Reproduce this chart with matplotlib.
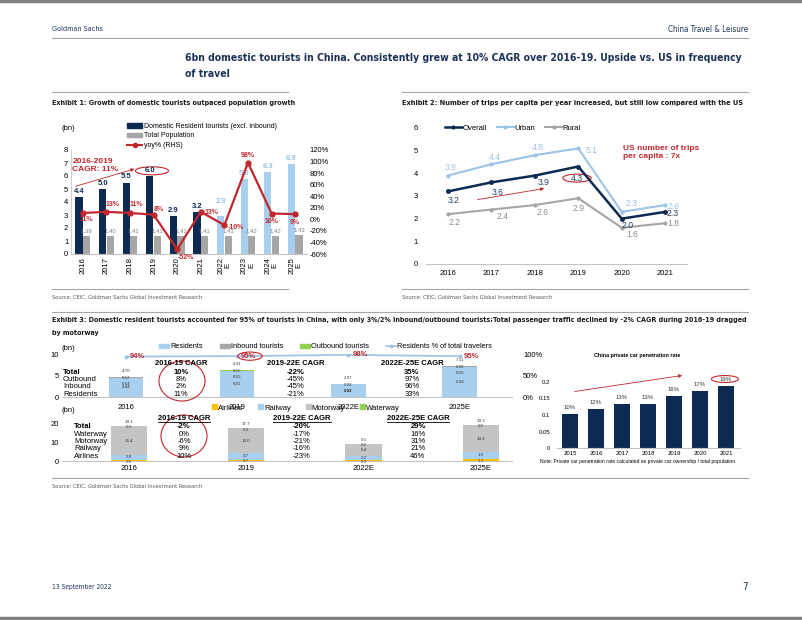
import numpy as np
import matplotlib
matplotlib.use("Agg")
import matplotlib.pyplot as plt
from matplotlib import font_manager as fm
from matplotlib.patches import Ellipse, Patch
from matplotlib.lines import Line2D
from matplotlib.ticker import FuncFormatter

# ---- data ----
ex1_years = ["2016", "2017", "2018", "2019", "2020", "2021", "2022\nE", "2023\nE", "2024\nE", "2025\nE"]
ex1_tourists = [4.4, 5.0, 5.5, 6.0, 2.9, 3.2, 2.9, 5.8, 6.3, 6.9]
ex1_population = [1.39, 1.40, 1.41, 1.41, 1.41, 1.41, 1.41, 1.42, 1.42, 1.43]
ex1_yoy = [0.11, 0.13, 0.11, 0.08, -0.52, 0.13, -0.10, 0.98, 0.10, 0.09]
ex1_n_actual = 6

ex2_years = ["2016", "2017", "2018", "2019", "2020", "2021"]
ex2_overall = [3.2, 3.6, 3.9, 4.3, 2.0, 2.3]
ex2_urban = [3.9, 4.4, 4.8, 5.1, 2.3, 2.6]
ex2_rural = [2.2, 2.4, 2.6, 2.9, 1.6, 1.8]

ex3_periods = ["2016", "2019", "2022E", "2025E"]
ex3_residents = [4.44, 6.01, 2.92, 6.94]
ex3_inbound = [0.14, 0.15, 0.02, 0.18]
ex3_outbound = [0.12, 0.15, 0.03, 0.20]
ex3_total = [4.70, 6.31, 2.97, 7.31]
ex3_res_share = [0.94, 0.95, 0.98, 0.95]
ex3_rows = ["Total", "Outbound", "Inbound", "Residents"]
cagr_heads = ["2016-19 CAGR", "2019-22E CAGR", "2022E-25E CAGR"]
ex3_cagr_1619 = ["10%", "8%", "2%", "11%"]
ex3_cagr_1922 = ["-22%", "-45%", "-45%", "-21%"]
ex3_cagr_2225 = ["35%", "97%", "96%", "33%"]

pax_airlines = [0.5, 0.7, 0.3, 1.1]
pax_railway = [2.8, 3.7, 2.2, 3.9]
pax_motorway = [15.4, 13.0, 6.4, 14.2]
pax_waterway = [0.3, 0.3, 0.2, 0.2]
pax_total = [19.1, 17.7, 9.1, 19.3]
pax_rows = ["Total", "Waterway", "Motorway", "Railway", "Airlines"]
pax_cagr_1619 = ["-2%", "0%", "-6%", "9%", "10%"]
pax_cagr_1922 = ["-20%", "-17%", "-21%", "-16%", "-23%"]
pax_cagr_2225 = ["29%", "16%", "31%", "21%", "46%"]

car_years = ["2015", "2016", "2017", "2018", "2019", "2020", "2021"]
car_rate = [0.103, 0.118, 0.132, 0.133, 0.158, 0.172, 0.187]

# ---- colours ----
NAVY = "#1c3157"
BAR_NAVY = "#0c2a52"
LBLUE = "#a9cfee"
LINE_BLUE = "#9dc3e6"
GRAY = "#a6a6a6"
LGRAY = "#c4c4c4"
GREEN = "#92d050"
YELLOW = "#ffc000"
RED = "#c0282d"
RULE = "#a6a6a6"

W, H = 802, 620
plt.rcParams["font.family"] = ["Liberation Sans", "DejaVu Sans"]
plt.rcParams["axes.unicode_minus"] = False

fig = plt.figure(figsize=(W / 100, H / 100), dpi=100)
renderer = fig.canvas.get_renderer()

names = {f.name for f in fm.fontManager.ttflist}
if "Liberation Sans Narrow" in names:
    COND = dict(family="Liberation Sans Narrow")
else:
    COND = dict(family="DejaVu Sans", stretch="condensed")


def axes_px(x0, y0, x1, y1):
    return fig.add_axes([x0 / W, 1 - y1 / H, (x1 - x0) / W, (y1 - y0) / H])


def text(x, y, s, **kw):
    return fig.text(x / W, 1 - y / H, s, **kw)


def fit_text(x, y, s, width, size=8, **kw):
    t = text(x, y, s, fontsize=size, **kw)
    w = t.get_window_extent(renderer).width
    t.set_fontsize(size * width / w)
    return t


def hline(y, x0, x1, lw=0.8, color=RULE):
    fig.add_artist(Line2D([x0 / W, x1 / W], [1 - y / H, 1 - y / H], lw=lw, color=color))


def ellipse_px(cx, cy, w, h):
    fig.add_artist(Ellipse((cx / W, 1 - cy / H), w / W, h / H, fill=False,
                           ec=RED, lw=0.8, transform=fig.transFigure))


def style_axes(ax, size=5.5):
    for s in ["top", "right", "left"]:
        ax.spines[s].set_visible(False)
    ax.spines["bottom"].set_color(LGRAY)
    ax.spines["bottom"].set_linewidth(0.8)
    ax.tick_params(length=0, labelsize=size, pad=2)
    ax.patch.set_alpha(0)


# ---- page furniture ----
hline(1, 0, W, lw=2.5, color="#808080")
hline(618, 0, W, lw=2.5, color="#808080")
fit_text(52, 29, "Goldman Sachs", 51, color=NAVY, va="center", **COND)
fit_text(748, 29, "China Travel & Leisure", 80, color=NAVY, va="center", ha="right", **COND)
hline(38, 52, 748)
t = fit_text(185, 58, "6bn domestic tourists in China. Consistently grew at 10% CAGR over 2016-19. "
             "Upside vs. US in frequency", 555, color=NAVY, va="center", weight="bold", **COND)
text(185, 74, "of travel", fontsize=t.get_fontsize(), color=NAVY, va="center", weight="bold", **COND)

hline(92, 52, 288)
hline(92, 402, 748)
fit_text(52, 103, "Exhibit 1: Growth of domestic tourists outpaced population growth", 246,
         color="#1a1a1a", va="center", weight="bold", **COND)
fit_text(402, 103, "Exhibit 2: Number of trips per capita per year increased, but still low compared with the US",
         346, color="#1a1a1a", va="center", weight="bold", **COND)

hline(289, 52, 288)
hline(289, 402, 748)
src = "Source: CEIC, Goldman Sachs Global Investment Research"
fit_text(52, 297, src, 150, color="#595959", va="center", **COND)
fit_text(402, 297, src, 150, color="#595959", va="center", **COND)

hline(312, 52, 748)
t = fit_text(52, 320, "Exhibit 3: Domestic resident tourists accounted for 95% of tourists in China, with only "
             "3%/2% inbound/outbound tourists;Total passenger traffic declined by -2% CAGR during 2016-19 dragged",
             696, color="#1a1a1a", va="center", weight="bold", **COND)
text(52, 333, "by motorway", fontsize=t.get_fontsize(), color="#1a1a1a", va="center", weight="bold", **COND)

hline(478, 52, 748)
fit_text(52, 486, src, 150, color="#595959", va="center", **COND)
fit_text(52, 587, "13 September 2022", 59, color=NAVY, va="center", **COND)
text(748, 587, "7", fontsize=7, color=NAVY, va="center", ha="right", **COND)

# ---- Exhibit 1 ----
ax1 = axes_px(71, 150, 307, 254)
x1 = np.arange(len(ex1_years))
tour_cols = [BAR_NAVY] * ex1_n_actual + [LBLUE] * (len(ex1_years) - ex1_n_actual)
ax1.bar(x1 - 0.16, ex1_tourists, 0.3, color=tour_cols, zorder=2)
ax1.bar(x1 + 0.16, ex1_population, 0.3, color=GRAY, zorder=2)
ax1.set_xlim(-0.5, len(ex1_years) - 0.5)
ax1.set_ylim(0, 8)
ax1.set_yticks(range(0, 9))
ax1.set_xticks(x1)
ax1.set_xticklabels(ex1_years, rotation=90, linespacing=1.0)
style_axes(ax1)
ax1.spines["left"].set_visible(True)
ax1.spines["left"].set_color(LGRAY)
ax1.spines["left"].set_linewidth(0.6)

tour_lift = [2, 2, 2, 2, 2, 2, 11, 2, 2, 2]
for i, v in enumerate(ex1_tourists):
    ax1.annotate(f"{v:.1f}", (i - 0.16, v), xytext=(0, tour_lift[i]), textcoords="offset pixels",
                 ha="center", va="bottom", fontsize=5.5, weight="bold", color=tour_cols[i]
                 if i < ex1_n_actual else LINE_BLUE)
for i, v in enumerate(ex1_population):
    ax1.annotate(f"{v:.2f}", (i + 0.16, v), xytext=(0, 2), textcoords="offset pixels",
                 ha="center", va="bottom", fontsize=4.3, color="#808080")

ax1r = ax1.twinx()
ax1r.plot(x1, ex1_yoy, color=RED, lw=1.6, marker="o", ms=3.5, zorder=3)
ax1r.set_ylim(-0.6, 1.2)
ax1r.set_yticks(np.arange(-0.6, 1.21, 0.2))
ax1r.yaxis.set_major_formatter(FuncFormatter(lambda v, _: f"{v * 100:.0f}%"))
style_axes(ax1r)
ax1r.spines["bottom"].set_visible(False)
yoy_off = [(4, -7), (6, 7), (6, 8), (5, 5), (9, -8), (11, -1), (11, -2), (0, 7), (0, -8), (0, -8)]
for i, v in enumerate(ex1_yoy):
    ax1r.annotate(f"{v * 100:.0f}%", (i, v), xytext=yoy_off[i], textcoords="offset pixels",
                  ha="center", va="center", fontsize=5, weight="bold", color=RED)

ax1.text(-0.45, 7.35, "2016-2019\nCAGR: 11%", color=RED, fontsize=6, weight="bold",
         va="top", ha="left", linespacing=1.15)
ax1.annotate("", xy=(2.3, 6.6), xytext=(-0.42, 5.15),
             arrowprops=dict(arrowstyle="-|>", color=RED, lw=0.6, mutation_scale=5),
             annotation_clip=False)
ax1.add_patch(Ellipse((2.93, 6.4), 1.4, 0.62, fill=False, ec=RED, lw=0.8, clip_on=False))

text(62, 128, "(bn)", fontsize=5.5, va="center")
fig.legend(handles=[Patch(color=BAR_NAVY), Patch(color=GRAY),
                    Line2D([], [], color=RED, marker="o", ms=3, lw=1.5)],
           labels=["Domestic Resident tourists (excl. inbound)", "Total Population", "yoy% (RHS)"],
           loc="upper left", bbox_to_anchor=(127 / W, 1 - 123 / H), frameon=False, fontsize=5,
           handlelength=2.2, handleheight=0.6, handletextpad=0.2, labelspacing=0.35,
           borderpad=0, borderaxespad=0)

# ---- Exhibit 2 ----
ax2 = axes_px(426, 128, 687, 264)
x2 = np.arange(len(ex2_years))
ax2.plot(x2, ex2_urban, color=LINE_BLUE, lw=1.5, marker="o", ms=2)
ax2.plot(x2, ex2_rural, color=GRAY, lw=1.5, marker="o", ms=2)
ax2.plot(x2, ex2_overall, color=BAR_NAVY, lw=1.8, marker="o", ms=2.5)
ax2.set_xlim(-0.5, len(ex2_years) - 0.5)
ax2.set_ylim(0, 6)
ax2.set_yticks(range(0, 7))
ax2.set_xticks(x2)
ax2.set_xticklabels(ex2_years)
style_axes(ax2)
ax2.tick_params(axis="y", pad=6)
ax2.tick_params(axis="x", pad=4)

ov_off = [(6, -9), (6, -10), (9, -7), (-1, -12), (6, -7), (7, -2)]
ur_off = [(3, 8), (4, 7), (3, 8), (13, -2), (10, 8), (8, -1)]
ru_off = [(7, -8), (11, -7), (8, -7), (0, -10), (11, -7), (8, 0)]
for vals, offs, col in [(ex2_overall, ov_off, "#2a3f5f"), (ex2_urban, ur_off, LINE_BLUE),
                        (ex2_rural, ru_off, "#8c8c8c")]:
    for i, v in enumerate(vals):
        ax2.annotate(f"{v:.1f}", (i, v), xytext=offs[i], textcoords="offset pixels",
                     ha="center", va="center", fontsize=6.2, color=col)

ax2.text(4.03, 5.25, "US number of trips\nper capita : 7x", color=RED, fontsize=6,
         weight="bold", va="top", ha="left", linespacing=1.15)
ax2.annotate("", xy=(2.28, 3.35), xytext=(0.62, 2.82),
             arrowprops=dict(arrowstyle="-|>", color=RED, lw=0.6, mutation_scale=5))
ax2.add_patch(Ellipse((2.97, 3.79), 0.65, 0.35, fill=False, ec=RED, lw=0.8, clip_on=False))

fig.legend(handles=[Line2D([], [], color=BAR_NAVY, lw=1.8, marker="o", ms=2),
                    Line2D([], [], color=LINE_BLUE, lw=1.5, marker="o", ms=2),
                    Line2D([], [], color=GRAY, lw=1.5, marker="o", ms=2)],
           labels=["Overall", "Urban", "Rural"], ncol=3, loc="center left",
           bbox_to_anchor=(445 / W, 1 - 128 / H), frameon=False, fontsize=5.5,
           handlelength=2.2, handletextpad=0.1, columnspacing=1.3, borderpad=0, borderaxespad=0)

# ---- Exhibit 3 (top): tourists ----
ax3 = axes_px(62, 354, 512, 397)
x3 = np.arange(len(ex3_periods))
bw = 0.31
ax3.bar(x3, ex3_residents, bw, color=LBLUE, zorder=2)
ax3.bar(x3, ex3_inbound, bw, bottom=ex3_residents, color=GRAY, zorder=2)
bot = np.add(ex3_residents, ex3_inbound)
ax3.bar(x3, ex3_outbound, bw, bottom=bot, color=GREEN, zorder=2)
ax3.set_xlim(-0.575, 3.47)
ax3.set_ylim(0, 10)
ax3.set_yticks([0, 5, 10])
ax3.set_xticks(x3)
ax3.set_xticklabels(ex3_periods)
style_axes(ax3)
ax3.tick_params(axis="x", pad=5)
tiny = dict(ha="center", va="center", fontsize=3.2, color="#333333", textcoords="offset pixels")
for i in range(len(ex3_periods)):
    top = ex3_total[i]
    ax3.annotate(f"{ex3_total[i]:.2f}", (i, top), xytext=(0, 6), **tiny)
    ax3.annotate(f"{ex3_outbound[i]:.2f}", (i, top), xytext=(0, -1), **tiny)
    ax3.annotate(f"{ex3_inbound[i]:.2f}", (i, top), xytext=(0, -7), **tiny)
    ax3.annotate(f"{ex3_residents[i]:.2f}", (i, ex3_residents[i] / 2), xytext=(0, 0), **tiny)

ax3r = ax3.twinx()
ax3r.plot(x3, ex3_res_share, color=LINE_BLUE, lw=1.2, marker="o", ms=1.8, zorder=1)
ax3r.set_ylim(0, 1)
ax3r.set_yticks([0, 0.5, 1])
ax3r.yaxis.set_major_formatter(FuncFormatter(lambda v, _: f"{v * 100:.0f}%"))
style_axes(ax3r)
ax3r.spines["bottom"].set_visible(False)
ax3r.tick_params(axis="y", pad=8)
for i, v in enumerate(ex3_res_share):
    ax3r.annotate(f"{v * 100:.0f}%", (i, v), xytext=(4, 0), textcoords="offset pixels",
                  ha="left", va="center", fontsize=5.5, weight="bold", color=RED)
ax3r.add_patch(Ellipse((1.115, 0.95), 0.22, 0.19, fill=False, ec=RED, lw=0.8, clip_on=False))

text(62, 349, "(bn)", fontsize=5.5, va="center")
fig.legend(handles=[Patch(color=LBLUE), Patch(color=GRAY), Patch(color=GREEN),
                    Line2D([], [], color=LINE_BLUE, lw=1.2, marker="o", ms=1.8)],
           labels=["Residents", "Inbound tourists", "Outbound tourists", "Residents % of total travelers"],
           ncol=4, loc="center left", bbox_to_anchor=(159 / W, 1 - 347 / H), frameon=False,
           fontsize=5.3, handlelength=1.4, handleheight=0.45, handletextpad=0.1,
           columnspacing=2.3, borderpad=0, borderaxespad=0)


def cagr_table(rows, cols, heads, xs, y_head, ys, x_rows, underline=False):
    for r, y in zip(rows, ys):
        text(x_rows, y, r, fontsize=5.5, va="center", weight="bold" if r == "Total" else "normal")
    for head, col, x in zip(heads, cols, xs):
        th = text(x, y_head, head, fontsize=5.5, ha="center", va="center", weight="bold")
        if underline:
            bb = th.get_window_extent(renderer)
            yy = bb.y0 - 0.5
            fig.add_artist(Line2D([bb.x0 / W, bb.x1 / W], [yy / H, yy / H], lw=0.6, color="black"))
        for j, (v, y) in enumerate(zip(col, ys)):
            text(x, y, v, fontsize=5.5, ha="center", va="center", weight="bold" if j == 0 else "normal")


cagr_table(ex3_rows, [ex3_cagr_1619, ex3_cagr_1922, ex3_cagr_2225], cagr_heads,
           [181, 296, 412], 364, [372, 379.5, 387, 394.5], 63)
ellipse_px(182, 381, 46, 40)

# ---- Exhibit 3 (bottom): passenger traffic ----
ax5 = axes_px(62, 424, 512, 461)
x5 = np.arange(len(ex3_periods))
b1 = np.array(pax_airlines)
b2 = b1 + np.array(pax_railway)
b3 = b2 + np.array(pax_motorway)
ax5.bar(x5, pax_airlines, 0.31, color=YELLOW, zorder=2)
ax5.bar(x5, pax_railway, 0.31, bottom=b1, color=LBLUE, zorder=2)
ax5.bar(x5, pax_motorway, 0.31, bottom=b2, color=LGRAY, zorder=2)
ax5.bar(x5, pax_waterway, 0.31, bottom=b3, color=LGRAY, zorder=2)
ax5.set_xlim(-0.571, 3.265)
ax5.set_ylim(0, 20)
ax5.set_yticks([0, 10, 20])
ax5.set_xticks(x5)
ax5.set_xticklabels(ex3_periods)
style_axes(ax5)
ax5.tick_params(axis="x", pad=3)
for i in range(len(ex3_periods)):
    ax5.annotate(f"{pax_total[i]:.1f}", (i, b3[i] + pax_waterway[i]), xytext=(0, 4), **tiny)
    ax5.annotate(f"{pax_waterway[i]:.1f}", (i, b3[i] + pax_waterway[i] / 2), xytext=(0, -1), **tiny)
    ax5.annotate(f"{pax_motorway[i]:.1f}", (i, b2[i] + pax_motorway[i] / 2), xytext=(0, 0), **tiny)
    ax5.annotate(f"{pax_railway[i]:.1f}", (i, b1[i] + pax_railway[i] / 2), xytext=(0, 0), **tiny)
    ax5.annotate(f"{pax_airlines[i]:.1f}", (i, pax_airlines[i] / 2), xytext=(0, -1), **tiny)

text(62, 411, "(bn)", fontsize=5.5, va="center")
fig.legend(handles=[Patch(color=YELLOW), Patch(color=LBLUE), Patch(color=LGRAY), Patch(color=GREEN)],
           labels=["Airlines", "Railway", "Motorway", "Waterway"], ncol=4, loc="center left",
           bbox_to_anchor=(212 / W, 1 - 408 / H), frameon=False, fontsize=5.5,
           handlelength=0.6, handleheight=0.6, handletextpad=0.15, columnspacing=2.0,
           borderpad=0, borderaxespad=0)
cagr_table(pax_rows, [pax_cagr_1619, pax_cagr_1922, pax_cagr_2225], cagr_heads,
           [184, 302, 418], 418, [426, 434, 441.5, 449, 456.5], 74, underline=True)
ellipse_px(184, 436, 46, 42)

# ---- private car penetration inset ----
ax4 = axes_px(557, 382, 740, 448)
x4 = np.arange(len(car_years))
ax4.bar(x4, car_rate, 0.58, color=BAR_NAVY, zorder=2)
ax4.set_xlim(-0.5, 6.54)
ax4.set_ylim(0, 0.2)
ax4.set_yticks([0, 0.05, 0.1, 0.15, 0.2])
ax4.yaxis.set_major_formatter(FuncFormatter(lambda v, _: f"{v:g}"))
ax4.set_xticks(x4)
ax4.set_xticklabels(car_years)
style_axes(ax4, size=4.3)
ax4.tick_params(axis="y", pad=5)
for i, v in enumerate(car_rate):
    ax4.annotate(f"{v:.0%}", (i, v), xytext=(0, 4), textcoords="offset pixels",
                 ha="center", va="bottom", fontsize=4.3, color="#333333")
ax4.annotate("", xy=(4.42, 0.221), xytext=(0.08, 0.17),
             arrowprops=dict(arrowstyle="-|>", color=RED, lw=0.6, mutation_scale=5),
             annotation_clip=False)
ax4.add_patch(Ellipse((5.96, 0.209), 1.04, 0.021, fill=False, ec=RED, lw=0.8, clip_on=False))
fit_text(637, 355, "China private car penetration rate", 87, ha="center", va="center", weight="bold")
fit_text(540, 462, "Note: Private car penetration rate calculated as private car ownership / total population.",
         195, va="center")

fig.savefig("out.png", dpi=100)
